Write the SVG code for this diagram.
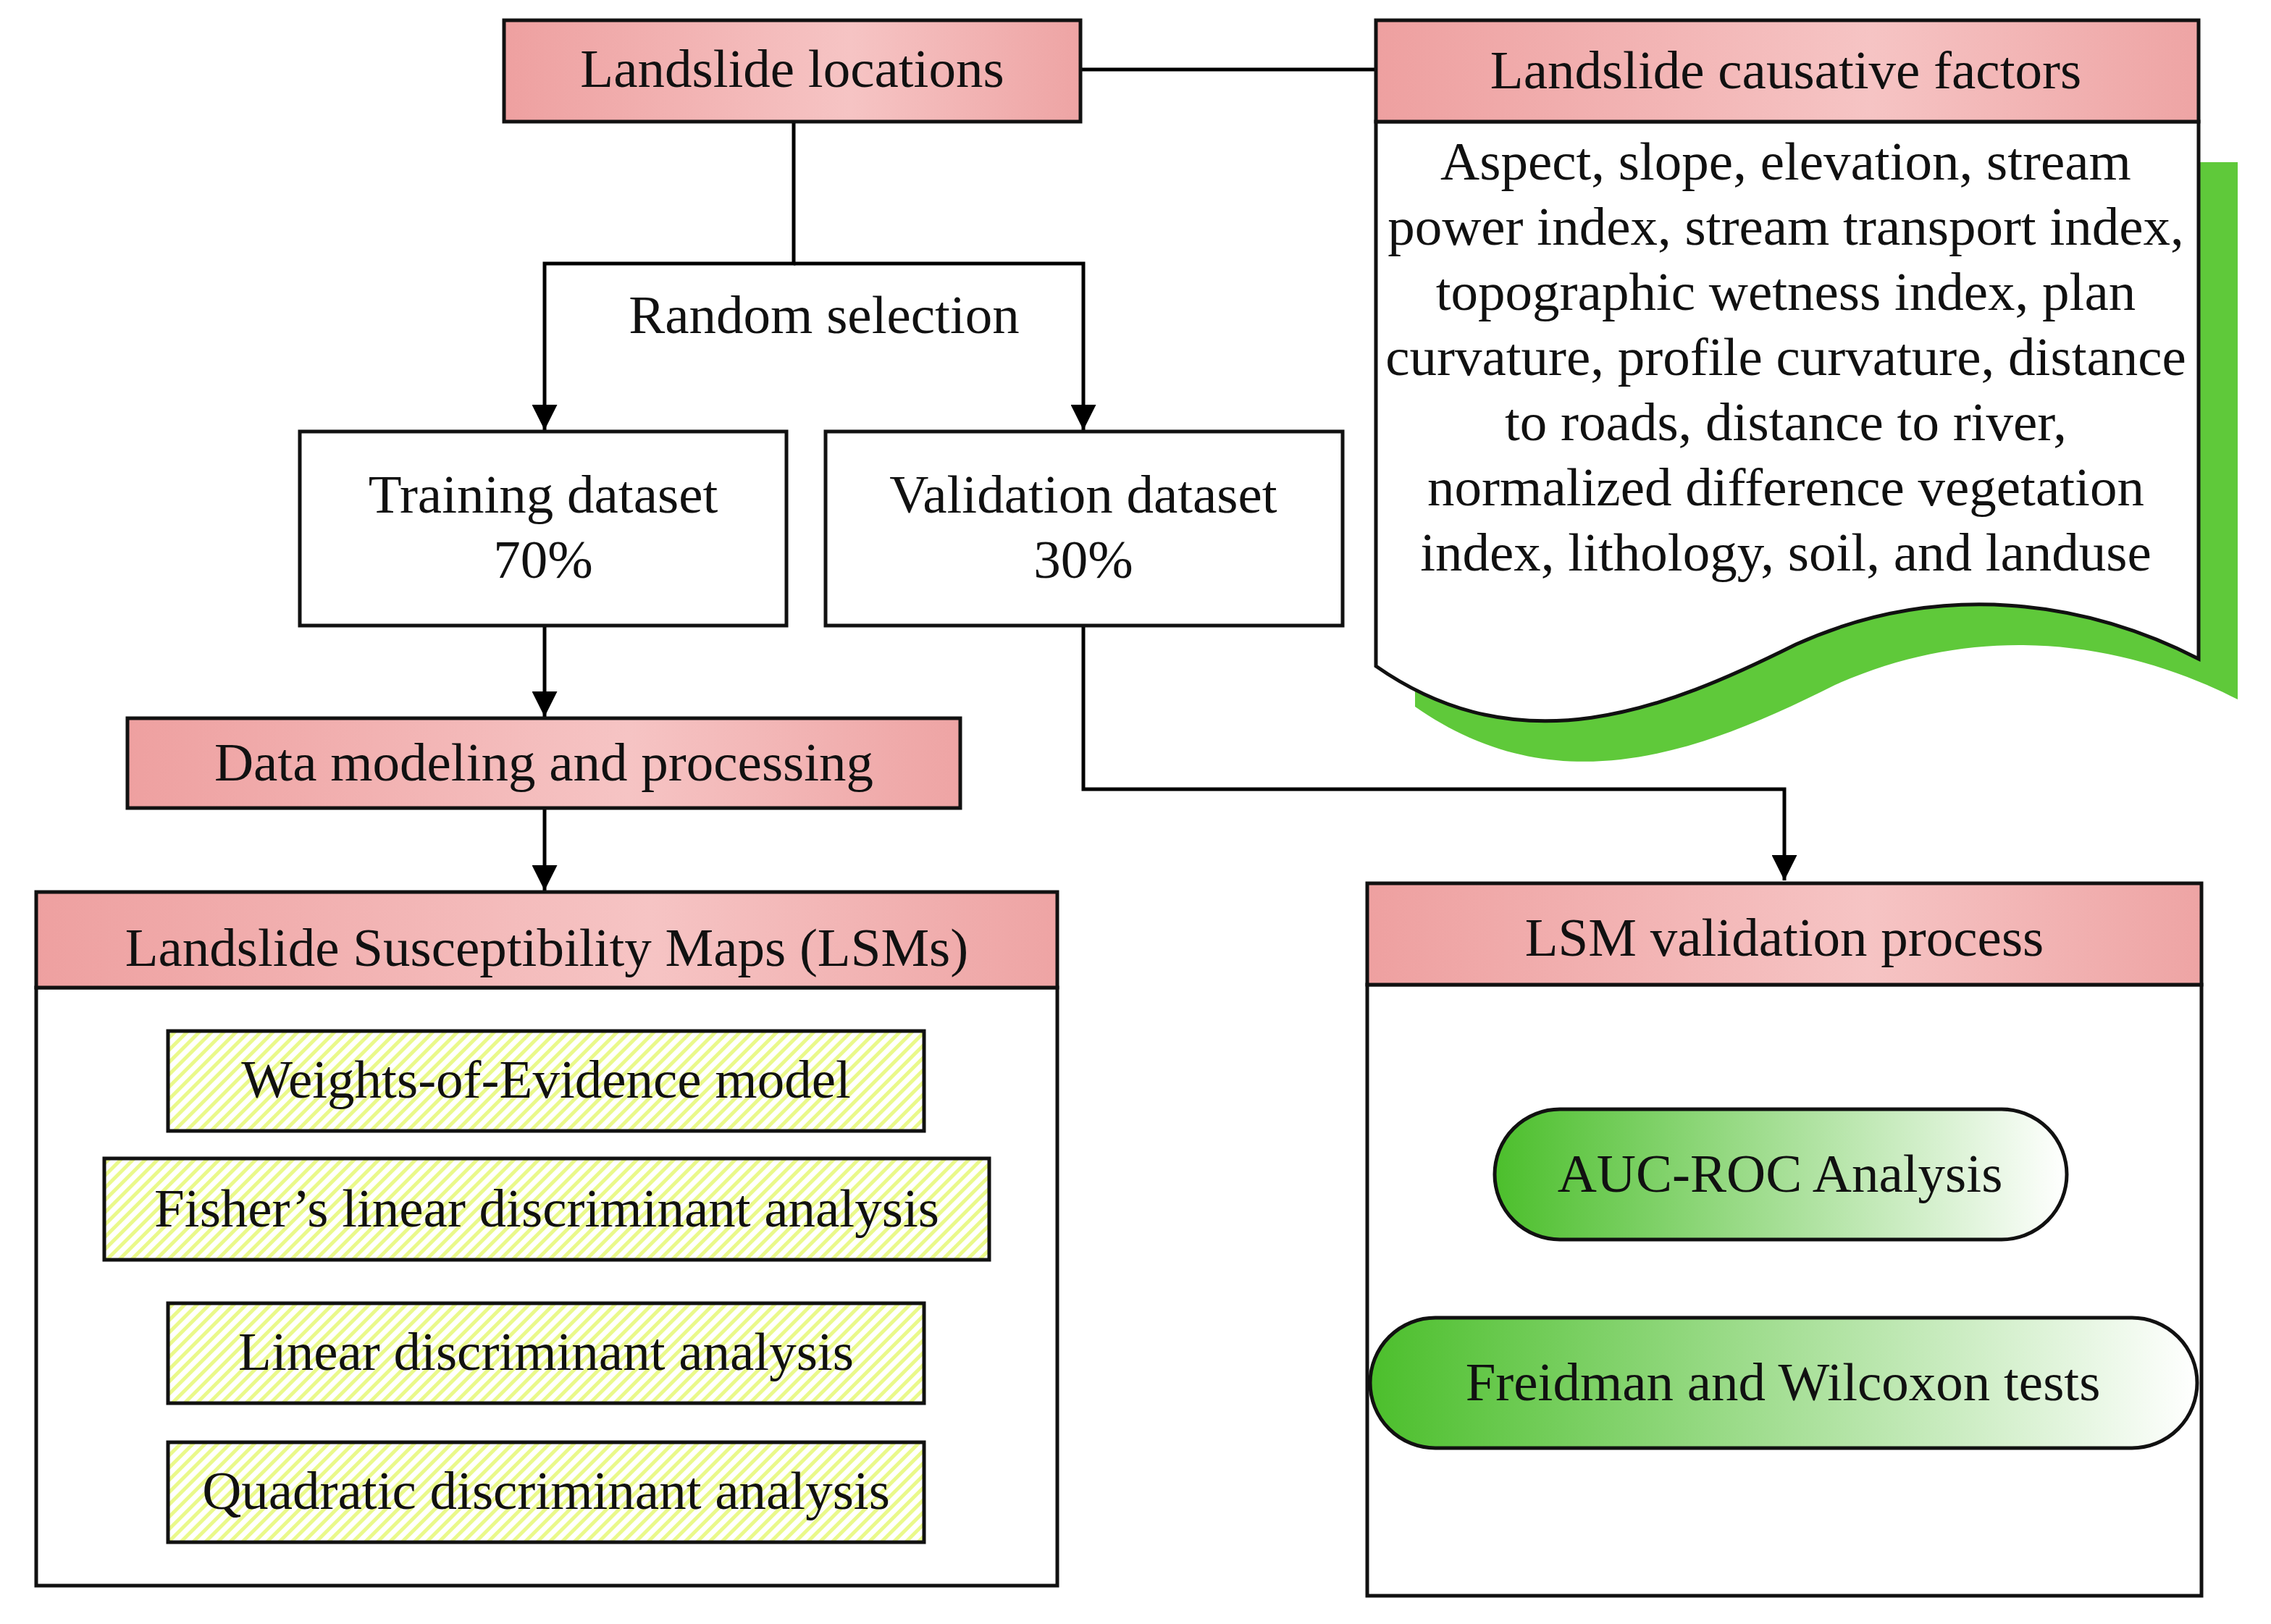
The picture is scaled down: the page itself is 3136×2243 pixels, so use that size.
<svg xmlns="http://www.w3.org/2000/svg" width="3136" height="2243" viewBox="0 0 3136 2243">
<defs>
<linearGradient id="pink" x1="0" y1="0" x2="1" y2="0"><stop offset="0" stop-color="#eea0a0"/><stop offset="0.6" stop-color="#f6c4c4"/><stop offset="1" stop-color="#eea4a4"/></linearGradient>
<linearGradient id="green" x1="0" y1="0" x2="1" y2="0"><stop offset="0" stop-color="#4cbf2c"/><stop offset="1" stop-color="#ffffff"/></linearGradient>
<pattern id="hatch" width="12" height="12" patternUnits="userSpaceOnUse" patternTransform="rotate(45)"><rect width="12" height="12" fill="#ffffff"/><rect width="5" height="12" fill="#eaf98a"/></pattern>
<marker id="ah" viewBox="0 0 10 10" refX="10" refY="5" markerWidth="9" markerHeight="7" orient="auto" markerUnits="strokeWidth"><path d="M0,0 L10,5 L0,10 z" fill="#000"/></marker>
</defs>
<style>
text{font-family:"Liberation Serif","Times New Roman",serif;font-size:75px;fill:#111;text-anchor:middle}
.b{stroke:#111;stroke-width:5}
.c{fill:none;stroke:#000;stroke-width:5}
</style>
<rect width="3136" height="2243" fill="#fff"/>
<g id="connectors">
<path class="c" d="M1492,96 H1900"/>
<path class="c" d="M1096,168 V364 H752 V594" marker-end="url(#ah)"/>
<path class="c" d="M1096,364 H1496 V594" marker-end="url(#ah)"/>
<path class="c" d="M752,864 V990" marker-end="url(#ah)"/>
<path class="c" d="M752,1116 V1230" marker-end="url(#ah)"/>
<path class="c" d="M1496,864 V1090 H2464 V1216" marker-end="url(#ah)"/>
<text x="1138" y="460">Random selection</text>
</g>
<g id="landslide-locations"><rect class="b" x="696" y="28" width="796" height="140" fill="url(#pink)"/><text x="1094" y="120">Landslide locations</text></g>
<g id="causative-factors">
<path transform="translate(54,56)" fill="#5fc93a" d="M1900,168 H3036 V910 C2880,830 2680,800 2480,890 C2300,980 2100,1060 1900,920 Z"/>
<path class="b" fill="#fff" d="M1900,168 H3036 V910 C2880,830 2680,800 2480,890 C2300,980 2100,1060 1900,920 Z"/>
<rect class="b" x="1900" y="28" width="1136" height="140" fill="url(#pink)"/>
<text x="2466" y="122">Landslide causative factors</text>
<text x="2466" y="248">Aspect, slope, elevation, stream</text>
<text x="2466" y="338">power index, stream transport index,</text>
<text x="2466" y="428">topographic wetness index, plan</text>
<text x="2466" y="518">curvature, profile curvature, distance</text>
<text x="2466" y="608">to roads, distance to river,</text>
<text x="2466" y="698">normalized difference vegetation</text>
<text x="2466" y="788">index, lithology, soil, and landuse</text>
</g>
<g id="training"><rect class="b" x="414" y="596" width="672" height="268" fill="#fff"/><text x="750" y="708">Training dataset</text><text x="750" y="798">70%</text></g>
<g id="validation"><rect class="b" x="1140" y="596" width="714" height="268" fill="#fff"/><text x="1496" y="708">Validation dataset</text><text x="1496" y="798">30%</text></g>
<g id="data-modeling"><rect class="b" x="176" y="992" width="1150" height="124" fill="url(#pink)"/><text x="751" y="1078">Data modeling and processing</text></g>
<g id="lsm">
<rect class="b" x="50" y="1364" width="1410" height="826" fill="#fff"/>
<rect class="b" x="50" y="1232" width="1410" height="132" fill="url(#pink)"/>
<text x="755" y="1334">Landslide Susceptibility Maps (LSMs)</text>
</g>
<g id="woe"><rect class="b" x="232" y="1424" width="1044" height="138" fill="url(#hatch)"/><text x="754" y="1516">Weights-of-Evidence model</text></g>
<g id="fisher"><rect class="b" x="144" y="1600" width="1222" height="140" fill="url(#hatch)"/><text x="755" y="1694">Fisher’s linear discriminant analysis</text></g>
<g id="lda"><rect class="b" x="232" y="1800" width="1044" height="138" fill="url(#hatch)"/><text x="754" y="1892">Linear discriminant analysis</text></g>
<g id="qda"><rect class="b" x="232" y="1992" width="1044" height="138" fill="url(#hatch)"/><text x="754" y="2084">Quadratic discriminant analysis</text></g>
<g id="lsm-validation">
<rect class="b" x="1888" y="1360" width="1152" height="844" fill="#fff"/>
<rect class="b" x="1888" y="1220" width="1152" height="140" fill="url(#pink)"/>
<text x="2464" y="1320">LSM validation process</text>
</g>
<g id="auc"><rect class="b" x="2064" y="1532" width="790" height="180" rx="90" fill="url(#green)"/><text x="2458" y="1646">AUC-ROC Analysis</text></g>
<g id="tests"><rect class="b" x="1892" y="1820" width="1142" height="180" rx="90" fill="url(#green)"/><text x="2462" y="1934">Freidman and Wilcoxon tests</text></g>
</svg>
